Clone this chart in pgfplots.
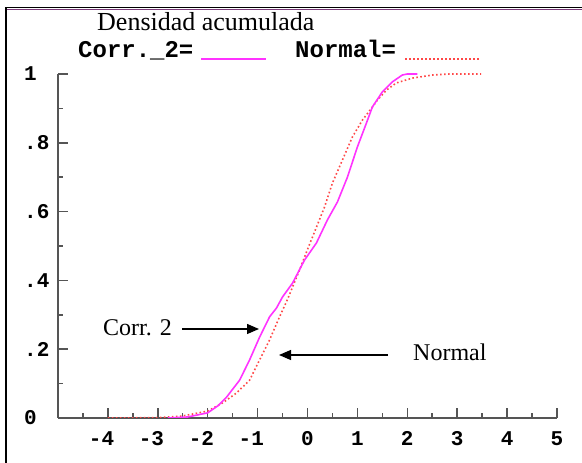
\documentclass[border=0pt]{standalone}
\usepackage{pgfplots}
\pgfplotsset{compat=1.18}
\usepackage{fontspec}
\setmainfont{Liberation Serif}
\newfontfamily\monofnt{Liberation Mono}
\usetikzlibrary{arrows.meta}
\definecolor{corr}{HTML}{FF33FF}
\definecolor{norm}{HTML}{FF4848}
\definecolor{axg}{HTML}{555555}
\definecolor{framepurple}{HTML}{7A3A7A}

\pgfplotstableread{
x y
-2.8 0.0
-2.4 0.003
-2.0 0.015
-1.8 0.035
-1.62 0.061
-1.36 0.11
-1.16 0.169
-0.96 0.235
-0.76 0.294
-0.62 0.32
-0.5 0.352
-0.3 0.392
-0.06 0.459
0.18 0.509
0.4 0.576
0.6 0.628
0.8 0.70
1.0 0.788
1.18 0.857
1.3 0.904
1.5 0.948
1.7 0.977
1.9 0.997
2.0 1.0
2.2 1.0
}\corrtable

\pgfplotstableread{
x y
-4 0
-3 0.001
-2.5 0.006
-2 0.02
-1.7 0.044
-1.42 0.073
-1.16 0.11
-0.96 0.169
-0.76 0.227
-0.56 0.294
-0.4 0.345
-0.16 0.43
0 0.49
0.18 0.555
0.34 0.613
0.5 0.683
0.7 0.75
0.9 0.817
1.1 0.866
1.28 0.9
1.4 0.924
1.58 0.953
1.78 0.974
2.1 0.988
2.5 0.997
2.84 1.0
3.48 1.0
}\normtable

\begin{document}
\begin{tikzpicture}
\useasboundingbox (0pt,0pt) rectangle (582pt,463pt);
\draw[black, line width=1.6pt] (5.8pt,0pt) -- (5.8pt,455.5pt);
\draw[black, line width=1.4pt] (5pt,455.5pt) -- (582pt,455.5pt);
\draw[framepurple, line width=0.9pt] (6.6pt,454pt) -- (582pt,454pt);

\begin{axis}[
  at={(58pt,45pt)}, anchor=south west,
  scale only axis, width=499pt, height=344pt,
  xmin=-5, xmax=5, ymin=0, ymax=1,
  axis x line*=bottom, axis y line*=left,
  axis line style={axg, line width=1.5pt},
  tick style={axg, line width=1.5pt},
  tick align=inside,
  xtick={-4,-3,-2,-1,0,1,2,3,4,5},
  xticklabels={\llap{-}4,\llap{-}3,\llap{-}2,\llap{-}1,0,1,2,3,4,5},
  minor xtick={-4.5,-3.5,-2.5,-1.5,-0.5,0.5,1.5,2.5,3.5,4.5},
  ytick={0,0.2,0.4,0.6,0.8,1},
  yticklabels={0,.2,.4,.6,.8,1},
  minor ytick={0.1,0.3,0.5,0.7,0.9},
  major tick length=10pt, minor tick length=5pt,
  ticklabel style={font=\monofnt\bfseries\fontsize{21}{21}\selectfont, text=black},
  yticklabel style={anchor=west, xshift=-34pt, inner sep=0pt},
  xticklabel style={anchor=north, yshift=-13pt, inner sep=0pt},
]
\addplot[norm, line width=1.6pt, dash pattern=on 1.6pt off 2.4pt] table[x=x,y=y] {\normtable};
\addplot[corr, line width=1.6pt] table[x=x,y=y] {\corrtable};
\end{axis}

\node[anchor=base west, inner sep=0pt, font=\fontsize{26}{26}\selectfont] at (97pt,432pt) {Densidad acumulada};
\node[anchor=base west, inner sep=0pt, font=\monofnt\bfseries\fontsize{24}{24}\selectfont] at (78pt,405pt) {Corr.\_2=};
\draw[corr, line width=1.5pt] (201pt,404pt) -- (266pt,404pt);
\node[anchor=base west, inner sep=0pt, font=\monofnt\bfseries\fontsize{24}{24}\selectfont] at (295pt,405pt) {Normal=};
\draw[norm, line width=1.5pt, dash pattern=on 1.5pt off 2.5pt] (405pt,404pt) -- (481pt,404pt);

\node[anchor=base west, inner sep=0pt, font=\fontsize{24}{24}\selectfont] at (103pt,127pt) {Corr. 2};
\draw[-{Triangle[length=12pt,width=10pt]}, line width=1.3pt] (182pt,134pt) -- (259pt,134pt);
\node[anchor=base west, inner sep=0pt, font=\fontsize{24}{24}\selectfont] at (413pt,102pt) {Normal};
\draw[-{Triangle[length=12pt,width=10pt]}, line width=1.3pt] (388pt,108pt) -- (279pt,108pt);
\end{tikzpicture}
\end{document}
